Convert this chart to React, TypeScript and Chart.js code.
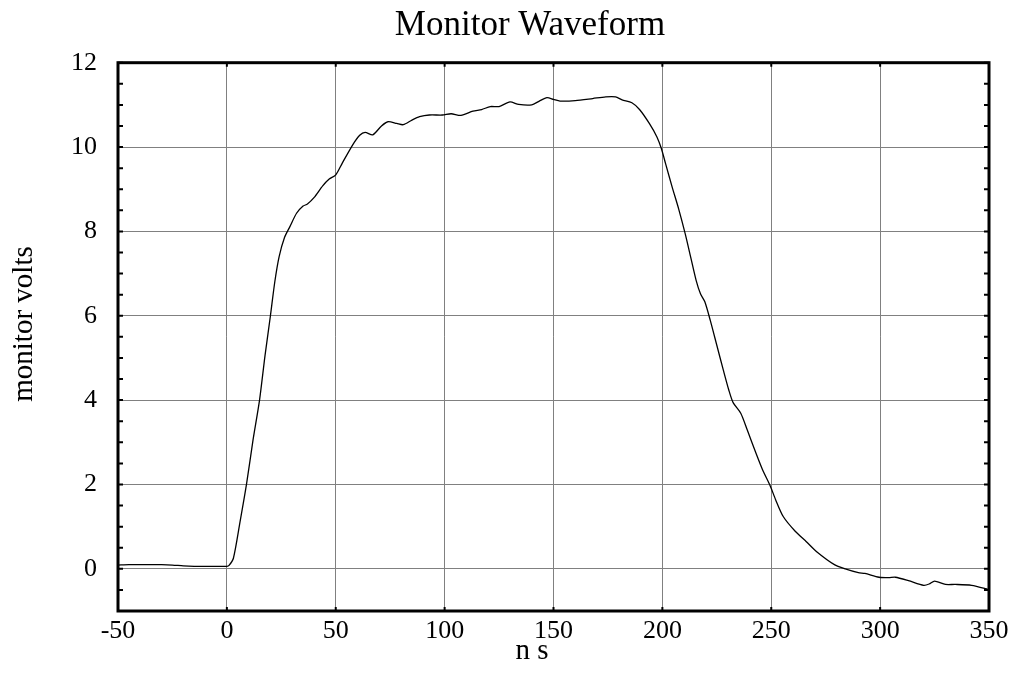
import React, { useEffect, useRef } from "react";
import { Chart, registerables } from "chart.js";

Chart.register(...registerables);

// ---- data ----
const timeNs = [
  -50, -45, -40, -35, -30, -25, -20, -15, -10, -5, 0, 1, 3, 6, 9, 12, 15, 17.5, 20, 22, 24, 26.5, 29, 32, 35, 37, 40, 44, 47, 50,
  53, 58, 61, 63.5, 67, 71, 74, 78, 81, 85, 88.5, 93, 99, 103, 107.5, 113, 117, 121, 125, 130, 134, 140, 143.5, 147, 150, 153,
  160, 168, 174, 178.5, 181.5, 186, 189.5, 194, 197.5, 199.5, 201.5, 204.5, 207.5, 210.5, 213, 215.5, 217.5, 219.5, 222, 225,
  228, 230.5, 232.5, 236, 239, 243, 246, 249.5, 252, 255.5, 261, 266, 271, 279, 284, 290, 293, 299.5, 304, 307, 313, 320, 322.5,
  325, 330, 334.5, 342, 348.5, 350,
];
const monitorVolts = [
  0.09, 0.1, 0.1, 0.1, 0.1, 0.09, 0.07, 0.06, 0.06, 0.06, 0.06, 0.08, 0.25, 1.1, 2.0, 3.05, 4.0, 5.05, 6.0, 6.8, 7.4, 7.86, 8.12,
  8.43, 8.6, 8.65, 8.8, 9.08, 9.24, 9.34, 9.62, 10.07, 10.28, 10.35, 10.29, 10.5, 10.6, 10.56, 10.53, 10.64, 10.72, 10.76, 10.76,
  10.79, 10.75, 10.85, 10.89, 10.96, 10.96, 11.07, 11.01, 11.0, 11.09, 11.17, 11.13, 11.09, 11.1, 11.15, 11.19, 11.19, 11.12,
  11.05, 10.89, 10.56, 10.24, 9.97, 9.6, 9.05, 8.53, 7.94, 7.39, 6.84, 6.52, 6.33, 5.89, 5.3, 4.71, 4.24, 3.94, 3.69, 3.29, 2.74,
  2.35, 1.97, 1.64, 1.24, 0.89, 0.65, 0.4, 0.1, 0.0, -0.09, -0.11, -0.2, -0.21, -0.2, -0.28, -0.39, -0.36, -0.29, -0.37, -0.37,
  -0.39, -0.47, -0.5,
];
const xTickValues = [-50, 0, 50, 100, 150, 200, 250, 300, 350];
const yTickValues = [0, 2, 4, 6, 8, 10, 12];
const xRange = [-50, 350];
const yRange = [-1, 12];
const yMinorStep = 0.5;

const titleText = "Monitor Waveform";
const xLabelText = "n s";
const yLabelText = "monitor volts";

const SERIF = '"Liberation Serif", "Times New Roman", serif';

const decorPlugin = {
  id: "decor",
  afterDraw(chart: any) {
    const { ctx, chartArea } = chart;
    const { left, right, top, bottom } = chartArea;
    const xs = chart.scales.x;
    const ys = chart.scales.y;
    ctx.save();
    // minor/major ticks on y (inward, both sides)
    ctx.strokeStyle = "#000";
    ctx.lineWidth = 2;
    for (let v = yRange[0]; v <= yRange[1] + 1e-9; v += yMinorStep) {
      const py = ys.getPixelForValue(v);
      ctx.beginPath();
      ctx.moveTo(left, py);
      ctx.lineTo(left + 5, py);
      ctx.moveTo(right, py);
      ctx.lineTo(right - 5, py);
      ctx.stroke();
    }
    // x ticks (inward, top & bottom)
    for (const v of xTickValues) {
      const px = xs.getPixelForValue(v);
      ctx.beginPath();
      ctx.moveTo(px, bottom);
      ctx.lineTo(px, bottom - 4);
      ctx.moveTo(px, top);
      ctx.lineTo(px, top + 4);
      ctx.stroke();
    }
    // frame
    ctx.lineWidth = 3;
    ctx.strokeRect(left, top, right - left, bottom - top);

    // title
    ctx.fillStyle = "#000";
    ctx.font = `35px ${SERIF}`;
    ctx.textAlign = "center";
    ctx.textBaseline = "alphabetic";
    ctx.fillText(titleText, 530, 35);
    // x label
    ctx.font = `29px ${SERIF}`;
    ctx.fillText(xLabelText, 532, 659);
    // y label
    ctx.translate(32, 324);
    ctx.rotate(-Math.PI / 2);
    ctx.fillText(yLabelText, 0, 0);
    ctx.restore();
  },
};

export default function App() {
  const ref = useRef<HTMLCanvasElement | null>(null);
  useEffect(() => {
    if (!ref.current) return;
    const chart = new Chart(ref.current, {
      type: "line",
      data: {
        datasets: [
          {
            data: timeNs.map((t, i) => ({ x: t, y: monitorVolts[i] })),
            borderColor: "#000",
            borderWidth: 1.3,
            pointRadius: 0,
            tension: 0.25,
            fill: false,
          },
        ],
      },
      options: {
        animation: false,
        responsive: false,
        devicePixelRatio: 1,
        layout: { padding: { top: 62.7, right: 30, bottom: 0, left: 0 } },
        plugins: { legend: { display: false }, title: { display: false }, tooltip: { enabled: false } },
        scales: {
          x: {
            type: "linear",
            min: xRange[0],
            max: xRange[1],
            afterBuildTicks: (s: any) => {
              s.ticks = xTickValues.map((v) => ({ value: v }));
            },
            afterFit: (s: any) => {
              s.height = 68;
            },
            grid: { color: "#808080", lineWidth: 1, drawTicks: false },
            border: { display: false },
            ticks: {
              color: "#000",
              font: { family: SERIF, size: 26 },
              padding: 5,
              maxRotation: 0,
              autoSkip: false,
            },
          },
          y: {
            type: "linear",
            min: yRange[0],
            max: yRange[1],
            afterBuildTicks: (s: any) => {
              s.ticks = yTickValues.map((v) => ({ value: v }));
            },
            afterFit: (s: any) => {
              s.width = 118;
            },
            grid: { color: "#808080", lineWidth: 1, drawTicks: false },
            border: { display: false },
            ticks: {
              color: "#000",
              font: { family: SERIF, size: 26 },
              padding: 21,
              autoSkip: false,
            },
          },
        },
      },
      plugins: [decorPlugin],
    });
    return () => chart.destroy();
  }, []);
  return (
    <div style={{ position: "fixed", left: 0, top: 0, width: 1019, height: 679, background: "#fff" }}>
      <canvas ref={ref} width={1019} height={679} style={{ display: "block" }} />
    </div>
  );
}
